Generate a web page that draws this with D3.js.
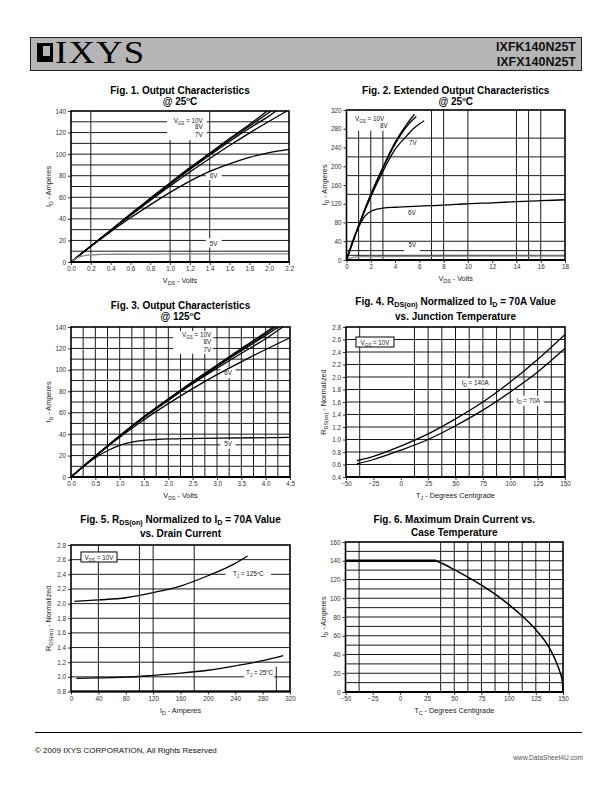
<!DOCTYPE html>
<html><head><meta charset="utf-8">
<script src="https://cdn.jsdelivr.net/npm/d3@7"></script>
<style>
body{margin:0;background:#fff}
svg{display:block}
text{font-family:"Liberation Sans",Arial,Helvetica,sans-serif}
</style>
</head><body>
<svg id="page" width="612" height="792"></svg>
<script>
// ---------------- DATA ----------------
// Fig. 1  Output Characteristics @ 25C  (VDS volts, ID amps)
const fig1XTicks = [0,0.2,0.4,0.6,0.8,1.0,1.2,1.4,1.6,1.8,2.0,2.2];
const fig1YTicks = [0,20,40,60,80,100,120,140];
const fig1HGrid = [10,20,30,40,50,60,70,80,90,100,110,120,130];
const fig1VGrid = [0.2,1.0,1.2,1.4];
const fig1_10V = [[0,0],[0.2,14.8],[0.4,29.5],[0.6,44.5],[0.8,59],[1.0,73.5],[1.2,87.5],[1.4,101],[1.6,114.5],[1.8,127.5],[1.98,140]];
const fig1_9V  = [[0,0],[0.2,14.8],[0.4,29.4],[0.6,44.2],[0.8,58.6],[1.0,73],[1.2,86.8],[1.4,100.2],[1.6,113.3],[1.8,126],[2.02,140]];
const fig1_8V  = [[0,0],[0.2,14.7],[0.4,29.2],[0.6,43.8],[0.8,58],[1.0,72],[1.2,85.8],[1.4,99],[1.6,111.8],[1.8,124],[2.0,135.5],[2.07,140]];
const fig1_7V  = [[0,0],[0.2,14.6],[0.4,29],[0.6,43.2],[0.8,57],[1.0,70.5],[1.2,83.5],[1.4,96],[1.6,108],[1.8,119.5],[2.0,130.5],[2.18,140]];
const fig1_6V  = [[0,0],[0.2,14.5],[0.4,28],[0.6,41],[0.8,53],[1.0,64.5],[1.2,75],[1.4,84],[1.6,91],[1.8,97],[2.0,101.5],[2.2,104.5]];
const fig1_5V  = [[0,0],[0.05,3.5],[0.1,5.2],[0.15,6.2],[0.2,6.7],[0.3,7.0],[0.5,7.2],[1.0,7.4],[2.2,7.6]];

// Fig. 2  Extended Output Characteristics @ 25C
const fig2XTicks = [0,2,4,6,8,10,12,14,16,18];
const fig2YTicks = [0,40,80,120,160,200,240,280,320];
const fig2HGrid = [10,20,40,80,140,180,220,260];
const fig2VGrid = [1,2,3,7,8,10,14,15,16];
const fig2_10V = [[0,0],[1,73.5],[2,140],[3,198],[4,251],[5,291],[5.6,311]];
const fig2_8V  = [[0,0],[1,73],[2,139],[3,196],[4,247],[5,286],[5.75,306]];
const fig2_7V  = [[0,0],[1,72],[2,135],[3,189],[4,236],[5,266],[5.5,280],[6,290],[6.4,297]];
const fig2_6V  = [[0,0],[0.5,40],[1,70],[1.5,93],[2,104],[2.5,108.5],[3,110.5],[4,112.5],[6,115],[8,117],[10,120],[12,122],[14,124.5],[16,126.5],[18,128.5]];
const fig2_5V  = [[0,0],[0.3,4],[0.6,6],[1,7],[2,7.5],[18,8.5]];

// Fig. 3  Output Characteristics @ 125C
const fig3XTicks = [0,0.5,1.0,1.5,2.0,2.5,3.0,3.5,4.0,4.5];
const fig3YTicks = [0,20,40,60,80,100,120,140];
const fig3HGrid = [10,20,30,40,50,60,70,80,90,100,110,120,130];
const fig3VGrid = [0.25,0.5,0.75,1.0,1.25,1.5,1.75,2.0,2.25,2.5,2.75,3.0,3.25,3.5,3.75,4.0,4.25];
const fig3_10V = [[0,0],[0.5,19.5],[1,38.5],[1.5,56.5],[2,73],[2.5,89],[3,104.5],[3.5,120],[4,135],[4.15,140]];
const fig3_9V  = [[0,0],[0.5,19.5],[1,38.3],[1.5,56.2],[2,72.6],[2.5,88.5],[3,103.8],[3.5,119],[4,133.5],[4.2,140]];
const fig3_8V  = [[0,0],[0.5,19.4],[1,38.2],[1.5,55.9],[2,72.2],[2.5,87.8],[3,103],[3.5,117.8],[4,132],[4.26,140]];
const fig3_7V  = [[0,0],[0.5,19.3],[1,38],[1.5,55.5],[2,71.5],[2.5,87],[3,101.5],[3.5,115.5],[4,129],[4.35,140]];
const fig3_6V  = [[0,0],[0.5,19],[1,37],[1.5,53.5],[2,68.5],[2.5,82.5],[3,95.5],[3.5,107.5],[4,119],[4.5,130]];
const fig3_5V  = [[0,0],[0.25,9.5],[0.5,18],[0.75,24.5],[1,29.5],[1.25,32.5],[1.5,34.2],[1.75,35],[2,35.5],[3,36.2],[4.5,37]];

// Fig. 4  RDS(on) normalized vs junction temperature
const fig4XTicks = [-50,-25,0,25,50,75,100,125,150];
const fig4YTicks = [0.4,0.6,0.8,1.0,1.2,1.4,1.6,1.8,2.0,2.2,2.4,2.6,2.8];
const fig4HGrid = [0.6,0.8,1.0,1.2,1.4,1.6,1.8,2.0,2.2,2.4,2.6];
const fig4VGrid = [-37.5,12.5,25,37.5,50,62.5,75,87.5,100,112.5,125,137.5];
const fig4_140A = [[-40,0.66],[-25,0.73],[0,0.895],[25,1.09],[50,1.33],[75,1.6],[100,1.92],[125,2.28],[150,2.68]];
const fig4_70A  = [[-40,0.61],[-25,0.68],[0,0.83],[25,1.0],[50,1.22],[75,1.47],[100,1.76],[125,2.08],[150,2.46]];

// Fig. 5  RDS(on) normalized vs drain current
const fig5XTicks = [0,40,80,120,160,200,240,280,320];
const fig5YTicks = [0.8,1.0,1.2,1.4,1.6,1.8,2.0,2.2,2.4,2.6,2.8];
const fig5HGrid = [1.0,1.2,1.4,1.6,1.8,2.0,2.2,2.4,2.6];
const fig5VGrid = [40,100,120,180];
const fig5VGridShort = [300];
const fig5_125C = [[5,2.03],[40,2.05],[80,2.08],[120,2.15],[160,2.24],[200,2.38],[240,2.55],[258,2.65]];
const fig5_25C  = [[8,0.98],[40,0.985],[80,0.995],[120,1.02],[160,1.05],[200,1.09],[240,1.15],[280,1.22],[310,1.29]];

// Fig. 6  Maximum drain current vs case temperature
const fig6XTicks = [-50,-25,0,25,50,75,100,125,150];
const fig6YTicks = [0,20,40,60,80,100,120,140,160];
const fig6HGrid = [10,20,30,40,50,60,70,80,90,100,110,120,130,140,150];
const fig6VGrid = [-37.5,37.5,50,62.5,75,87.5,100,112.5,125,137.5];
const fig6_flat = [[-50,140],[33,140]];
const fig6_derate = [[33,140],[40,136.5],[50,130.5],[62.5,122.5],[75,114],[87.5,104.5],[100,93.5],[112.5,81],[125,66.5],[137.5,47],[143,34],[147,22],[149.3,12],[150,0]];

// ---------------- DRAWING ----------------
const svg = d3.select("#page");

function rich(sel, parts, fs, subK){
  let cur = 0;
  const sk = subK==null?0.28:subK;
  parts.forEach(p=>{
    const s = Array.isArray(p)?p[0]:p, mode = Array.isArray(p)?p[1]:null;
    let target = 0, size = fs;
    if(mode==="sub"){ target = fs*sk; size = fs*0.72; }
    if(mode==="sup"){ target = -fs*0.4; size = fs*0.62; }
    sel.append("tspan").attr("font-size",size).attr("dy",target-cur).text(s);
    cur = target;
  });
  return sel;
}

// header
svg.append("rect").attr("x",30.5).attr("y",37.5).attr("width",551).attr("height",33)
  .attr("fill","#b5b5b5").attr("stroke","#222").attr("stroke-width",1);
svg.append("rect").attr("x",37).attr("y",43).attr("width",16).attr("height",19).attr("fill","#000");
svg.append("rect").attr("x",43).attr("y",46).attr("width",7).attr("height",10).attr("fill","#b5b5b5");
svg.append("text").attr("transform","translate(55,63) scale(1.15,1)").style("font-family","'Liberation Serif','Times New Roman',serif")
  .attr("font-size",32).attr("letter-spacing",1).attr("fill","#000").text("IXYS");
svg.append("text").attr("x",576).attr("y",51).attr("text-anchor","end").attr("font-weight","bold")
  .attr("font-size",12.5).attr("fill","#111").text("IXFK140N25T");
svg.append("text").attr("x",576).attr("y",66).attr("text-anchor","end").attr("font-weight","bold")
  .attr("font-size",12.5).attr("fill","#111").text("IXFX140N25T");

// footer
svg.append("line").attr("x1",35).attr("x2",582).attr("y1",732.5).attr("y2",732.5).attr("stroke","#000").attr("stroke-width",1);
svg.append("text").attr("x",35).attr("y",753).attr("font-size",8).attr("fill","#111").text("\u00A9 2009 IXYS CORPORATION, All Rights Reserved");
svg.append("text").attr("x",583).attr("y",760).attr("text-anchor","end").attr("font-size",6.6).attr("fill","#555").text("www.DataSheet4U.com");

function chart(c){
  const g = svg.append("g");
  const x = d3.scaleLinear().domain(c.xd).range([c.L,c.R]);
  const y = d3.scaleLinear().domain(c.yd).range([c.B,c.T]);
  // grid
  g.selectAll(null).data(c.hGrid).join("line")
    .attr("x1",c.L).attr("x2",c.R).attr("y1",d=>y(d)).attr("y2",d=>y(d))
    .attr("stroke","#000").attr("stroke-width",0.9);
  g.selectAll(null).data(c.vGrid).join("line")
    .attr("x1",d=>x(d)).attr("x2",d=>x(d)).attr("y1",c.B).attr("y2",c.T)
    .attr("stroke","#000").attr("stroke-width",0.9);
  if(c.vShort){
    g.selectAll(null).data(c.vShort.vals).join("line")
      .attr("x1",d=>x(d)).attr("x2",d=>x(d)).attr("y1",y(c.vShort.from)).attr("y2",y(c.vShort.to))
      .attr("stroke","#000").attr("stroke-width",0.9);
  }
  // label boxes
  (c.boxes||[]).forEach(b=>{
    g.append("rect").attr("x",x(b.x0)).attr("y",y(b.y1)).attr("width",x(b.x1)-x(b.x0)).attr("height",y(b.y0)-y(b.y1))
      .attr("fill","#fff").attr("stroke",b.border?"#000":"none").attr("stroke-width",1);
  });
  // curves
  const line = d3.line().x(d=>x(d[0])).y(d=>y(d[1])).curve(d3.curveMonotoneX);
  c.series.forEach(s=>{
    g.append("path").attr("d",line(s.d)).attr("fill","none")
      .attr("stroke",s.color||"#000").attr("stroke-width",s.w||1.3).attr("stroke-linejoin","round");
  });
  // frame
  g.append("rect").attr("x",c.L).attr("y",c.T).attr("width",c.R-c.L).attr("height",c.B-c.T)
    .attr("fill","none").attr("stroke","#000").attr("stroke-width",1.6);
  g.append("line").attr("x1",c.L).attr("x2",c.R).attr("y1",c.B).attr("y2",c.B).attr("stroke","#000").attr("stroke-width",2.2);
  // axes
  const ax = g.append("g").attr("transform",`translate(0,${c.B})`)
    .call(d3.axisBottom(x).tickValues(c.xTicks).tickFormat(c.xFmt).tickSize(3).tickSizeOuter(0).tickPadding(2));
  const ay = g.append("g").attr("transform",`translate(${c.L},0)`)
    .call(d3.axisLeft(y).tickValues(c.yTicks).tickFormat(c.yFmt).tickSize(3).tickSizeOuter(0).tickPadding(2));
  [ax,ay].forEach(a=>{
    a.select(".domain").remove();
    a.selectAll(".tick line").attr("stroke","#000").attr("stroke-width",0.8);
    a.selectAll(".tick text").attr("font-size",6.3).attr("fill","#333");
  });
  // in-plot labels
  (c.labels||[]).forEach(l=>{
    const t = g.append("text").attr("x",x(l.x)).attr("y",y(l.y)).attr("text-anchor",l.anchor||"start")
      .attr("fill","#222");
    rich(t,l.parts,l.fs||6.3);
  });
  // titles
  const cx = (c.L+c.R)/2;
  c.title.forEach((tp,i)=>{
    const t = g.append("text").attr("x",cx).attr("y",c.titleY[i]).attr("text-anchor","middle")
      .attr("font-weight","bold").attr("fill","#000");
    rich(t,tp,10,0.2);
  });
  // axis titles
  const xl = g.append("text").attr("x",cx).attr("y",c.B+21).attr("text-anchor","middle").attr("fill","#222");
  rich(xl,c.xLabel,7.3);
  const ym = (c.T+c.B)/2, yx = c.L-20;
  const yl = g.append("text").attr("transform",`translate(${yx},${ym}) rotate(-90)`).attr("text-anchor","middle").attr("fill","#222");
  rich(yl,c.yLabel,7.3);
}

const f1 = d3.format(".1f"), fd = d3.format("d");
const VDS = ["V",["DS","sub"]," - Volts"], IDA = ["I",["D","sub"]," - Amperes"];
const RDS = ["R",["DS(on)","sub"]," - Normalized"];
const vgsLbl = ["V",["GS","sub"]," = 10V"];

// Fig 1
chart({L:71,R:289,T:111,B:262, xd:[0,2.2], yd:[0,140], xTicks:fig1XTicks, yTicks:fig1YTicks, xFmt:f1, yFmt:fd,
  hGrid:fig1HGrid, vGrid:fig1VGrid,
  boxes:[{x0:0.97,x1:1.37,y0:113,y1:139.3},{x0:1.36,x1:1.52,y0:76,y1:84},{x0:1.36,x1:1.52,y0:13.5,y1:22}],
  series:[{d:fig1_10V},{d:fig1_9V},{d:fig1_8V},{d:fig1_7V},{d:fig1_6V},{d:fig1_5V,color:"#888"}],
  labels:[{x:1.33,y:128.7,anchor:"end",parts:vgsLbl},{x:1.33,y:123,anchor:"end",parts:["8V"]},{x:1.33,y:116.2,anchor:"end",parts:["7V"]},
          {x:1.40,y:77.5,parts:["6V"]},{x:1.40,y:15,parts:["5V"]}],
  title:[["Fig. 1. Output Characteristics"],["@ 25",["o","sup"],"C"]], titleY:[94,104.5],
  xLabel:VDS, yLabel:IDA});

// Fig 2
chart({L:346.5,R:565,T:110,B:260, xd:[0,18], yd:[0,320], xTicks:fig2XTicks, yTicks:fig2YTicks, xFmt:fd, yFmt:fd,
  hGrid:fig2HGrid, vGrid:fig2VGrid,
  boxes:[{x0:0.35,x1:3.8,y0:276,y1:318},{x0:5.0,x1:6.05,y0:238,y1:256},{x0:4.75,x1:6.05,y0:17,y1:33}],
  series:[{d:fig2_10V},{d:fig2_8V},{d:fig2_7V},{d:fig2_6V},{d:fig2_5V,color:"#888"}],
  labels:[{x:0.7,y:296.5,parts:vgsLbl},{x:2.76,y:281.6,parts:["8V"]},{x:5.15,y:244.3,parts:["7V"]},
          {x:5.07,y:95,parts:["6V"]},{x:5.1,y:26.7,parts:["5V"]}],
  title:[["Fig. 2. Extended Output Characteristics"],["@ 25",["o","sup"],"C"]], titleY:[94,104.5],
  xLabel:VDS, yLabel:IDA});

// Fig 3
chart({L:71,R:290,T:327,B:477, xd:[0,4.5], yd:[0,140], xTicks:fig3XTicks, yTicks:fig3YTicks, xFmt:f1, yFmt:fd,
  hGrid:fig3HGrid, vGrid:fig3VGrid,
  boxes:[{x0:2.1,x1:2.92,y0:115,y1:136.3},{x0:3.07,x1:3.38,y0:92.5,y1:101.5},{x0:3.07,x1:3.38,y0:26.5,y1:34.5}],
  series:[{d:fig3_10V},{d:fig3_9V},{d:fig3_8V},{d:fig3_7V},{d:fig3_6V},{d:fig3_5V}],
  labels:[{x:2.88,y:130.7,anchor:"end",parts:vgsLbl},{x:2.88,y:123.7,anchor:"end",parts:["8V"]},{x:2.88,y:117.1,anchor:"end",parts:["7V"]},
          {x:3.15,y:95.2,parts:["6V"]},{x:3.15,y:28.9,parts:["5V"]}],
  title:[["Fig. 3. Output Characteristics"],["@ 125",["o","sup"],"C"]], titleY:[309,320],
  xLabel:VDS, yLabel:IDA});

// Fig 4
chart({L:346,R:565,T:327,B:477, xd:[-50,150], yd:[0.4,2.8], xTicks:fig4XTicks, yTicks:fig4YTicks, xFmt:fd, yFmt:f1,
  hGrid:fig4HGrid, vGrid:fig4VGrid,
  boxes:[{x0:-40.9,x1:-6.2,y0:2.48,y1:2.64,border:true},{x0:51,x1:85,y0:1.82,y1:1.98},{x0:103,x1:130.5,y0:1.54,y1:1.70}],
  series:[{d:fig4_140A},{d:fig4_70A}],
  labels:[{x:-23.5,y:2.51,anchor:"middle",parts:vgsLbl},{x:68,y:1.87,anchor:"middle",parts:["I",["D","sub"]," = 140A"]},
          {x:116.5,y:1.592,anchor:"middle",parts:["I",["D","sub"]," = 70A"]}],
  title:[["Fig. 4. R",["DS(on)","sub"]," Normalized to I",["D","sub"]," = 70A Value"],["vs. Junction Temperature"]], titleY:[305,319.5],
  xLabel:["T",["J","sub"]," - Degrees Centigrade"], yLabel:RDS});

// Fig 5
chart({L:71,R:290,T:545,B:691.5, xd:[0,320], yd:[0.8,2.8], xTicks:fig5XTicks, yTicks:fig5YTicks, xFmt:fd, yFmt:f1,
  hGrid:fig5HGrid, vGrid:fig5VGrid, vShort:{vals:fig5VGridShort,from:0.8,to:1.14},
  boxes:[{x0:14.6,x1:67.2,y0:2.568,y1:2.705,border:true},{x0:226,x1:292,y0:2.32,y1:2.46},{x0:253,x1:297,y0:0.98,y1:1.12}],
  series:[{d:fig5_125C},{d:fig5_25C}],
  labels:[{x:41,y:2.595,anchor:"middle",parts:["V",["DS","sub"]," = 10V"]},{x:259,y:2.37,anchor:"middle",parts:["T",["J","sub"]," = 125",["o","sup"],"C"]},
          {x:275.5,y:1.027,anchor:"middle",parts:["T",["J","sub"]," = 25",["o","sup"],"C"]}],
  title:[["Fig. 5. R",["DS(on)","sub"]," Normalized to I",["D","sub"]," = 70A Value"],["vs. Drain Current"]], titleY:[522.5,536.5],
  xLabel:IDA, yLabel:RDS});

// Fig 6
chart({L:345.5,R:563,T:542,B:692, xd:[-50,150], yd:[0,160], xTicks:fig6XTicks, yTicks:fig6YTicks, xFmt:fd, yFmt:fd,
  hGrid:fig6HGrid, vGrid:fig6VGrid,
  series:[{d:fig6_flat,w:2.4},{d:fig6_derate,w:1.5}],
  title:[["Fig. 6. Maximum Drain Current vs."],["Case Temperature"]], titleY:[523,536],
  xLabel:["T",["C","sub"]," - Degrees Centigrade"], yLabel:IDA});
</script>
</body></html>
